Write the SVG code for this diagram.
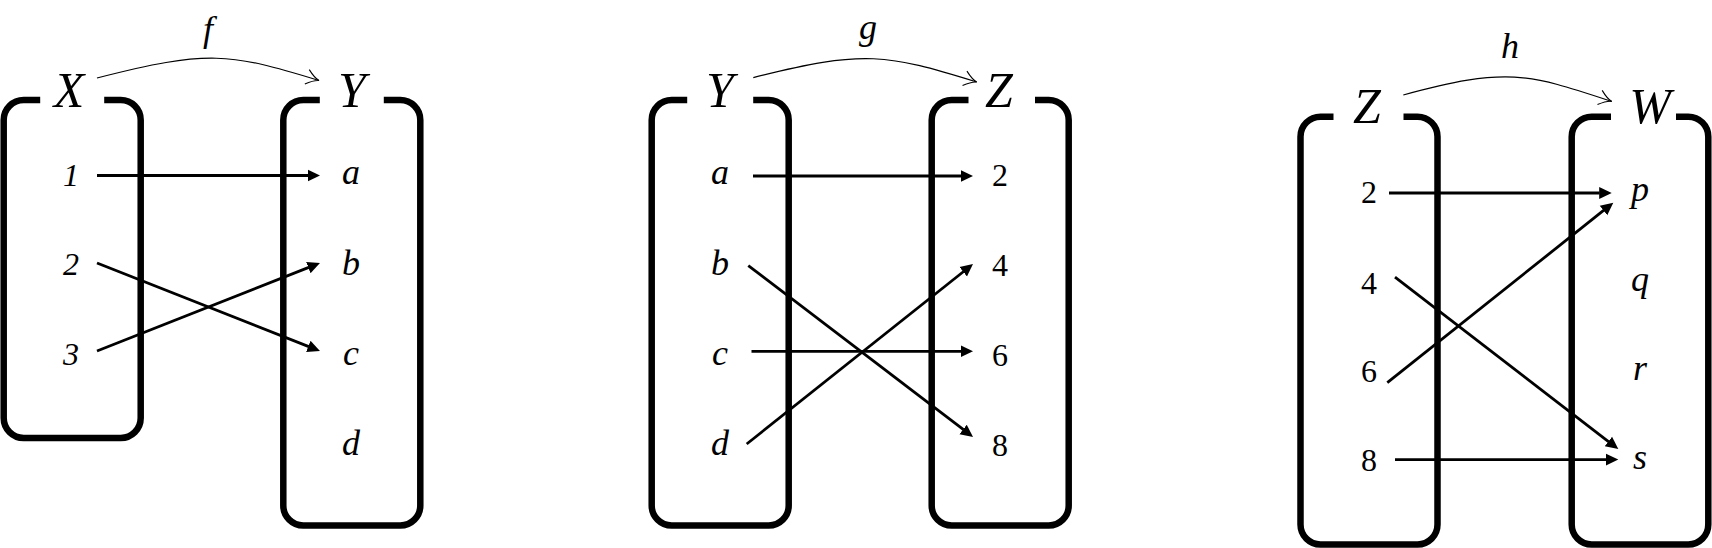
<svg xmlns="http://www.w3.org/2000/svg" width="1712" height="548" viewBox="0 0 1712 548">
<style>
  .box { fill: none; stroke: #000; stroke-width: 6.5; stroke-linecap: butt; }
  text { font-family: 'Liberation Serif', 'DejaVu Serif', 'Times New Roman', serif; fill: #000; text-anchor: middle; }
  .set { font-style: italic; font-size: 50px; }
  .el { font-style: italic; font-size: 36px; }
  .num { font-size: 32px; }
  .inum { font-style: italic; font-size: 32px; }
  .fn { font-style: italic; font-size: 36px; }
  .map { fill: none; stroke: #000; stroke-width: 2.8; marker-end: url(#ah); }
  .fun { fill: none; stroke: #000; stroke-width: 1.2; marker-end: url(#oh); }
</style>
<defs>
  <marker id="ah" markerUnits="userSpaceOnUse" markerWidth="16" markerHeight="16" viewBox="0 -8 16 16" refX="0.5" refY="0" orient="auto">
    <path d="M0,-6 L12.5,0 L0,6 z" fill="#000"/>
  </marker>
  <marker id="oh" markerUnits="userSpaceOnUse" markerWidth="18" markerHeight="18" viewBox="-15 -9 18 18" refX="0" refY="0" orient="auto">
    <path d="M-12.5,-7.5 Q-5,-1 0,0 Q-5,1 -12.5,7.5" fill="none" stroke="#000" stroke-width="1.1"/>
  </marker>
</defs>

<!-- Panel f : X -> Y -->
<g id="set-X1">
  <path class="box" d="M40.2,100 H23.7 A20,20 0 0 0 3.7,120 V418 A20,20 0 0 0 23.7,438 H120.7 A20,20 0 0 0 140.7,418 V120 A20,20 0 0 0 120.7,100 H104.2"/>
  <text class="set" x="69" y="107">X</text>
  <text class="inum" x="71" y="186">1</text>
  <text class="inum" x="71" y="275">2</text>
  <text class="inum" x="71" y="365">3</text>
</g>
<g id="set-Y1">
  <path class="box" d="M319.8,100 H303.3 A20,20 0 0 0 283.3,120 V505.5 A20,20 0 0 0 303.3,525.5 H400.3 A20,20 0 0 0 420.3,505.5 V120 A20,20 0 0 0 400.3,100 H383.8"/>
  <text class="set" x="352" y="107">Y</text>
  <text class="el" x="351" y="184">a</text>
  <text class="el" x="351" y="275">b</text>
  <text class="el" x="351" y="365">c</text>
  <text class="el" x="351" y="455">d</text>
</g>

<!-- Panel g : Y -> Z -->
<g id="set-Y2">
  <path class="box" d="M687.2,100 H671.7 A20,20 0 0 0 651.7,120 V505.5 A20,20 0 0 0 671.7,525.5 H768.7 A20,20 0 0 0 788.7,505.5 V120 A20,20 0 0 0 768.7,100 H753.2"/>
  <text class="set" x="720" y="107">Y</text>
  <text class="el" x="720" y="184">a</text>
  <text class="el" x="720" y="275">b</text>
  <text class="el" x="720" y="365">c</text>
  <text class="el" x="720" y="455">d</text>
</g>
<g id="set-Z2">
  <path class="box" d="M968.5,100 H951.7 A20,20 0 0 0 931.7,120 V505.5 A20,20 0 0 0 951.7,525.5 H1048.7 A20,20 0 0 0 1068.7,505.5 V120 A20,20 0 0 0 1048.7,100 H1035"/>
  <text class="set" x="999" y="107">Z</text>
  <text class="num" x="1000" y="186">2</text>
  <text class="num" x="1000" y="276">4</text>
  <text class="num" x="1000" y="366">6</text>
  <text class="num" x="1000" y="456">8</text>
</g>

<!-- Panel h : Z -> W -->
<g id="set-Z3">
  <path class="box" d="M1333.5,116.7 H1320.5 A20,20 0 0 0 1300.5,136.7 V524.5 A20,20 0 0 0 1320.5,544.5 H1417.5 A20,20 0 0 0 1437.5,524.5 V136.7 A20,20 0 0 0 1417.5,116.7 H1403.5"/>
  <text class="set" x="1367" y="123">Z</text>
  <text class="num" x="1369" y="203">2</text>
  <text class="num" x="1369" y="294">4</text>
  <text class="num" x="1369" y="382">6</text>
  <text class="num" x="1369" y="471">8</text>
</g>
<g id="set-W3">
  <path class="box" d="M1611,116.7 H1591.7 A20,20 0 0 0 1571.7,136.7 V524.5 A20,20 0 0 0 1591.7,544.5 H1688.3 A20,20 0 0 0 1708.3,524.5 V136.7 A20,20 0 0 0 1688.3,116.7 H1676"/>
  <text class="set" x="1650" y="123">W</text>
  <text class="el" x="1640" y="201">p</text>
  <text class="el" x="1640" y="291">q</text>
  <text class="el" x="1640" y="380">r</text>
  <text class="el" x="1640" y="469">s</text>
</g>

<g id="connectors">
  <path class="fun" d="M97,78 C208,49.5 230,53 319,80.5"/>
  <text class="fn" x="208" y="41">f</text>
  <path class="fun" d="M753.3,77.6 C865,49 887.3,54.5 976.7,82"/>
  <text class="fn" x="868" y="39">g</text>
  <path class="fun" d="M1403.3,95 C1507.5,66.5 1528.3,73.9 1611.7,101.4"/>
  <text class="fn" x="1510" y="58">h</text>

  <path class="map" d="M97,175.5 L308,175.5"/>
  <path class="map" d="M97,263 L308.8,346.6"/>
  <path class="map" d="M97,351 L308.8,267.4"/>

  <path class="map" d="M753,176 L961,176"/>
  <path class="map" d="M748.3,265.6 L963.5,429.7"/>
  <path class="map" d="M751.5,351.3 L961,351.3"/>
  <path class="map" d="M746.7,444 L963.6,271.5"/>

  <path class="map" d="M1389,193 L1599.7,193"/>
  <path class="map" d="M1387.3,382.7 L1603.9,210.2"/>
  <path class="map" d="M1395,277.2 L1608.8,441.8"/>
  <path class="map" d="M1395,459.6 L1606.3,459.6"/>
</g>
</svg>
